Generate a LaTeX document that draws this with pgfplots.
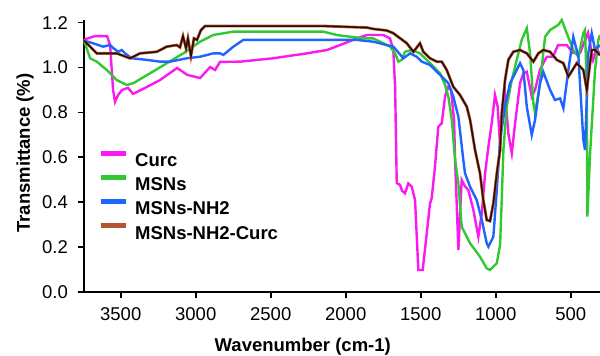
\documentclass[border=0pt]{standalone}
\usepackage{pgfplots}
\pgfplotsset{compat=1.18}
\usepackage{fontspec}
\setmainfont{Liberation Sans}
\definecolor{curc}{RGB}{250,25,240}
\definecolor{msn}{RGB}{50,200,50}
\definecolor{nh2}{RGB}{30,100,255}
\definecolor{nh2c}{RGB}{180,85,50}
\definecolor{nh2cdark}{RGB}{40,12,6}
\begin{document}
\fontsize{18.5bp}{22bp}\selectfont
\begin{tikzpicture}
\begin{axis}[
 at={(0,0)}, anchor=south west,
 scale only axis, width=516bp, height=271.3bp,
 xmin=305, xmax=3745, ymin=0, ymax=1.21,
 x dir=reverse,
 axis x line=bottom, axis y line=left,
 axis line style={-, line width=1.6bp, black},
 tick style={line width=1.6bp, black},
 major tick length=6bp, tick align=outside,
 xtick={500,1000,1500,2000,2500,3000,3500},
 xticklabels={500,1000,1500,2000,2500,3000,3500},
 ytick={0,0.2,0.4,0.6,0.8,1.0,1.2},
 yticklabels={0.0,0.2,0.4,0.6,0.8,1.0,1.2},
 ticklabel style={font=\fontsize{18.5bp}{22bp}\selectfont},
 xticklabel style={anchor=base, inner sep=0pt, yshift=-22.5bp},
 yticklabel style={anchor=east, inner sep=0pt, xshift=-10bp},
 xlabel={Wavenumber (cm-1)},
 ylabel={Transmittance (\%)},
 every axis x label/.style={at={(axis description cs:0.424,-0.2186)}, anchor=base,
   font=\fontsize{18.5bp}{22bp}\selectfont\bfseries},
 every axis y label/.style={at={(axis description cs:-0.114,0.511)}, anchor=center, rotate=90,
   font=\fontsize{18.5bp}{22bp}\selectfont\bfseries},
 clip=false,
 legend style={draw=none, fill=none, at={(axis description cs:0.0271,0.5204)}, anchor=north west,
   font=\fontsize{18.5bp}{22bp}\selectfont\bfseries, inner sep=0pt, row sep=8.5bp, column sep=7bp,
   nodes={inner sep=0pt, text height=13.3bp, text depth=0bp}},
 legend cell align=left,
 legend image code/.code={\draw[#1] (0bp,6.6bp) -- (25bp,6.6bp);},
]
\addlegendimage{curc, line width=5bp}\addlegendentry{Curc}
\addlegendimage{msn, line width=5bp}\addlegendentry{MSNs}
\addlegendimage{nh2, line width=5bp}\addlegendentry{MSNs-NH2}
\addlegendimage{nh2c, line width=5bp}\addlegendentry{MSNs-NH2-Curc}

% Curc
\addplot[curc, line width=2.4bp, forget plot] coordinates {
(3745,1.12) (3733,1.127) (3671,1.14) (3591,1.14) (3571,1.10) (3551,0.90) (3538,0.847) (3518,0.877) (3491,0.90) (3451,0.909) (3418,0.882) (3338,0.909) (3238,0.944) (3124,0.998) (3057,0.967) (2971,0.953) (2904,1.002) (2871,0.989) (2838,1.025) (2704,1.026) (2484,1.041) (2259,1.063) (2125,1.078) (2038,1.10) (1925,1.13) (1858,1.145) (1751,1.145) (1705,1.13) (1683,1.078) (1671,0.914) (1660,0.485) (1638,0.476) (1624,0.45) (1605,0.439) (1583,0.483) (1560,0.468) (1538,0.409) (1516,0.097) (1487,0.097) (1460,0.26) (1438,0.394) (1427,0.417) (1405,0.558) (1383,0.736) (1360,0.751) (1338,0.87) (1316,0.914) (1298,0.90) (1278,0.766) (1271,0.587) (1249,0.186) (1227,0.498) (1205,0.47) (1183,0.454) (1149,0.364) (1116,0.245) (1093,0.35) (1071,0.528) (1049,0.647) (1027,0.751) (1005,0.877) (987,0.825) (976,0.706) (958,0.79) (938,0.885) (916,0.706) (893,0.617) (871,0.751) (838,0.93) (816,0.974) (793,0.981) (760,0.87) (738,0.90) (705,0.99) (660,1.048) (618,1.048) (585,1.10) (527,1.10) (485,1.065) (438,1.065) (385,1.154) (351,1.034) (327,1.087) (305,1.056)
};
% MSNs
\addplot[msn, line width=2.4bp, forget plot] coordinates {
(3745,1.12) (3704,1.041) (3660,1.026) (3593,0.989) (3527,0.944) (3460,0.922) (3416,0.93) (3305,0.974) (3193,1.019) (3083,1.063) (2971,1.115) (2883,1.145) (2749,1.16) (2260,1.16) (2151,1.16) (2060,1.145) (1971,1.137) (1885,1.13) (1818,1.13) (1749,1.108) (1705,1.093) (1671,1.063) (1649,1.026) (1627,1.034) (1605,1.07) (1560,1.078) (1505,1.063) (1438,1.019) (1371,0.974) (1338,0.922) (1316,0.87) (1293,0.766) (1271,0.587) (1249,0.483) (1227,0.29) (1171,0.216) (1105,0.156) (1060,0.104) (1038,0.097) (993,0.127) (971,0.21) (960,0.41) (949,0.632) (927,0.825) (893,0.944) (860,1.034) (827,1.123) (793,1.175) (771,1.063) (749,0.84) (738,0.796) (705,0.93) (671,1.137) (638,1.167) (583,1.19) (560,1.212) (527,1.153) (483,1.078) (449,1.048) (416,1.153) (405,1.167) (393,0.914) (389,0.335) (371,0.617) (338,0.989) (316,1.123) (305,1.145)
};
% MSNs-NH2
\addplot[nh2, line width=2.4bp, forget plot] coordinates {
(3745,1.12) (3685,1.108) (3618,1.093) (3571,1.10) (3549,1.086) (3516,1.07) (3493,1.078) (3471,1.063) (3427,1.041) (3327,1.034) (3238,1.026) (3171,1.026) (3060,1.041) (2971,1.048) (2883,1.063) (2838,1.063) (2816,1.056) (2749,1.093) (2683,1.123) (1927,1.123) (1816,1.115) (1727,1.10) (1683,1.093) (1616,1.041) (1571,1.063) (1527,1.048) (1493,1.026) (1438,1.011) (1371,0.967) (1316,0.93) (1283,0.87) (1249,0.78) (1216,0.587) (1205,0.528) (1171,0.468) (1127,0.409) (1093,0.32) (1060,0.216) (1049,0.201) (1016,0.245) (993,0.454) (971,0.677) (938,0.825) (905,0.93) (871,0.974) (838,1.019) (816,0.989) (793,0.825) (760,0.699) (738,0.766) (705,0.93) (683,0.98) (638,0.90) (605,0.855) (571,0.862) (549,0.818) (516,0.989) (483,1.137) (449,1.048) (416,0.677) (405,0.632) (383,1.063) (360,1.153) (338,1.078) (305,1.10)
};
% MSNs-NH2-Curc
\pgfplotstableread{
w t
3745 1.12
3704 1.093
3660 1.063
3527 1.063
3438 1.041
3371 1.063
3260 1.07
3193 1.093
3127 1.10
3105 1.09
3085 1.14
3065 1.086
3052 1.13
3032 1.051
3012 1.13
2992 1.123
2965 1.167
2938 1.185
2305 1.185
2151 1.185
1860 1.178
1816 1.172
1727 1.165
1683 1.153
1651 1.137
1593 1.108
1549 1.07
1505 1.108
1483 1.07
1438 1.041
1393 1.026
1360 1.026
1327 0.989
1283 0.914
1238 0.877
1193 0.825
1171 0.766
1138 0.632
1105 0.528
1083 0.409
1060 0.32
1038 0.315
1016 0.394
993 0.528
971 0.632
960 0.796
938 0.944
916 1.034
883 1.07
838 1.078
793 1.063
749 1.026
716 1.063
683 1.078
638 1.07
593 1.034
549 1.019
516 0.959
460 1.019
416 0.989
393 0.90
371 1.019
360 1.078
338 1.078
305 1.055
}\nhtwoc
\addplot[nh2c, line width=2.8bp, forget plot] table[x=w, y=t] {\nhtwoc};
\addplot[nh2cdark, line width=1.5bp, forget plot] table[x=w, y=t] {\nhtwoc};
\end{axis}
\pgfresetboundingbox
\useasboundingbox (-84bp,-64.3bp) rectangle (516bp,291.7bp);
\end{tikzpicture}
\end{document}
